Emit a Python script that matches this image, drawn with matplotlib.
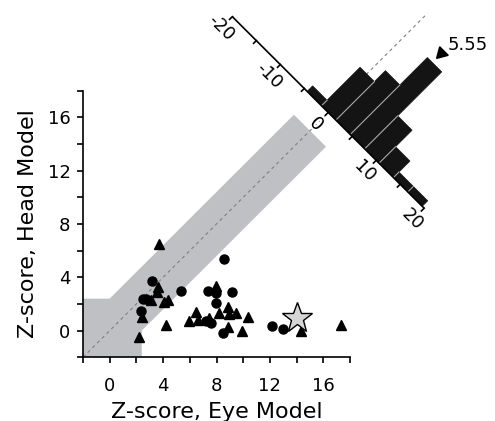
import numpy as np
import matplotlib
matplotlib.use("Agg")
import matplotlib.pyplot as plt
from matplotlib.ticker import MultipleLocator
from matplotlib.transforms import Affine2D
import matplotlib.patheffects as pe

plt.rcParams['font.family'] = ['DejaVu Sans']

# scatter data (Eye model z-score, Head model z-score)
circ_x = [3.14, 5.34, 2.51, 2.75, 2.34, 8.54, 7.34, 7.97, 9.14, 7.97, 7.21, 7.59, 8.46, 12.14, 13.0]
circ_y = [3.75, 2.98, 2.35, 2.35, 1.50, 5.36, 3.00, 2.85, 2.90, 2.10, 0.75, 0.60, -0.20, 0.35, 0.10]
tri_x = [3.71, 3.59, 3.51, 3.09, 4.09, 4.39, 2.39, 4.21, 2.21, 5.91, 6.47, 6.64,
         7.46, 7.97, 8.89, 8.21, 8.96, 9.47, 10.34, 8.89, 9.89, 14.3, 17.3]
tri_y = [6.50, 3.25, 2.88, 2.30, 2.18, 2.30, 1.00, 0.45, -0.45, 0.75, 1.43, 0.80,
         0.93, 3.35, 1.80, 1.30, 1.25, 1.35, 1.05, 0.25, 0.00, 0.00, 0.40]
star_x = [14.0]
star_y = [0.93]

# histogram of Eye - Head difference
hist_edges = [-4.4, -1.4, 1.6, 4.6, 7.6, 10.6, 13.6, 16.6, 19.6]
hist_counts = [1, 7, 9, 14, 6, 3, 1, 1]
hist_mean = 5.55
hist_ticks = [-20, -15, -10, -5, 0, 5, 10, 15, 20]
hist_labels = [-20, -10, 0, 10, 20]

zthr = 2.4       # significance threshold (band half width)
band_end = 30.0  # band ends where x + y = band_end
lim = (-2, 18)

fig = plt.figure(figsize=(4.95, 4.21), dpi=100)
ax = fig.add_axes([83 / 495, 1 - 357.3 / 421, 267 / 495, 266.6 / 421])

# grey "not significant" region
lo = lim[0]
e = band_end / 2
band_x = [lo, lo, 0, e - zthr / 2, e + zthr / 2, zthr, zthr]
band_y = [lo, zthr, zthr, e + zthr / 2, e - zthr / 2, 0, lo]
ax.fill(band_x, band_y, color='#bfc0c4', lw=0, zorder=1)

# identity line
diag_end = 23.8
ax.plot([lo, diag_end], [lo, diag_end], color='#808080', lw=0.8,
        dashes=(3, 3), clip_on=False, zorder=2)

ax.plot(circ_x, circ_y, 'o', color='k', ms=6.5, mec='k', zorder=5)
ax.plot(tri_x, tri_y, '^', color='k', ms=7, mec='k', zorder=5)
ax.plot(star_x, star_y, '*', mfc='#d6d6d6', mec='k', mew=1, ms=23, zorder=6)

ax.set_xlim(*lim)
ax.set_ylim(*lim)
ax.xaxis.set_major_locator(MultipleLocator(4))
ax.xaxis.set_minor_locator(MultipleLocator(2))
ax.yaxis.set_major_locator(MultipleLocator(4))
ax.yaxis.set_minor_locator(MultipleLocator(2))
for s in ['top', 'right']:
    ax.spines[s].set_visible(False)
for s in ['left', 'bottom']:
    ax.spines[s].set_linewidth(1.2)
ax.tick_params(which='both', direction='out', length=4, width=1.2, labelsize=13)
ax.tick_params(axis='x', pad=10)
ax.tick_params(axis='y', pad=5)
ax.set_xlabel('Z-score, Eye Model', fontsize=16, labelpad=5)
ax.set_ylabel('Z-score, Head Model', fontsize=16, labelpad=7)

# rotated histogram (45 deg) in the upper right
origin = 16.37
u_scale = 0.508
c_scale = 0.583
hist_tr = Affine2D().scale(u_scale, c_scale).rotate_deg(-45).translate(origin, origin) + ax.transData

ax.bar(hist_edges[:-1], hist_counts, width=np.diff(hist_edges), align='edge',
       transform=hist_tr, clip_on=False, color='#141414', edgecolor='#141414',
       linewidth=0.5, zorder=3)
# light separators between adjacent bars
for i in range(1, len(hist_counts)):
    top = min(hist_counts[i - 1], hist_counts[i])
    ax.plot([hist_edges[i]] * 2, [0, top], color='#a8a8a8', lw=0.8,
            transform=hist_tr, clip_on=False, zorder=3.5)
ax.plot([hist_ticks[0], hist_ticks[-1]], [0, 0], color='k', lw=1.2,
        transform=hist_tr, clip_on=False, zorder=4, solid_capstyle='butt')
for t in hist_ticks:
    ax.plot([t, t], [0, -0.5], color='k', lw=1.2, transform=hist_tr,
            clip_on=False, zorder=4)
for t in hist_labels:
    txt = ax.text(t, -2.1, str(t), transform=hist_tr, rotation=-45,
                  rotation_mode='anchor', ha='center', va='center',
                  fontsize=13, zorder=6)
    if t == 0:
        txt.set_path_effects([pe.withStroke(linewidth=3, foreground='white')])

ax.plot([hist_mean], [15.6], marker=(3, 0, 135), color='k', ms=10,
        transform=hist_tr, clip_on=False, zorder=4)
ax.annotate(f'{hist_mean:.2f}', xy=(hist_mean, 15.6), xycoords=hist_tr,
            xytext=(7, 8), textcoords='offset pixels', ha='left', va='center',
            fontsize=13)

ax.set_xlim(*lim)
ax.set_ylim(*lim)

fig.savefig('out.png', dpi=100)
